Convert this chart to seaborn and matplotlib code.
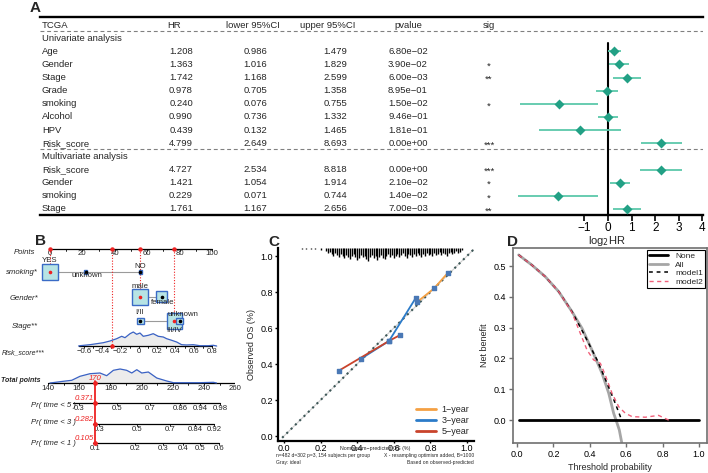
import numpy as np
import pandas as pd
import matplotlib
matplotlib.use("Agg")
import matplotlib.pyplot as plt
import matplotlib.transforms as mtrans
from matplotlib.patches import Rectangle
from matplotlib.lines import Line2D
import seaborn as sns

# ---------------- Panel A data (forest plot) ----------------
a_labels = ["Age", "Gender", "Stage", "Grade", "smoking", "Alcohol", "HPV", "Risk_score",
            "Risk_score", "Gender", "smoking", "Stage"]
a_group = ["Univariate"] * 8 + ["Multivariate"] * 4
a_hr = [1.208, 1.363, 1.742, 0.978, 0.240, 0.990, 0.439, 4.799, 4.727, 1.421, 0.229, 1.761]
a_lower = [0.986, 1.016, 1.168, 0.705, 0.076, 0.736, 0.132, 2.649, 2.534, 1.054, 0.071, 1.167]
a_upper = [1.479, 1.829, 2.599, 1.358, 0.755, 1.332, 1.465, 8.693, 8.818, 1.914, 0.744, 2.656]
a_pvalue = ["6.80e\u221202", "3.90e\u221202", "6.00e\u221203", "8.95e\u221201", "1.50e\u221202",
            "9.46e\u221201", "1.81e\u221201", "0.00e+00", "0.00e+00", "2.10e\u221202",
            "1.40e\u221202", "7.00e\u221203"]
a_sig = ["", "*", "**", "", "*", "", "", "***", "***", "*", "*", "**"]
a_headers = ["TCGA", "HR", "lower 95%CI", "upper 95%CI", "pvalue", "sig"]
forest_ticks = [-1, 0, 1, 2, 3, 4]

# ---------------- Panel B data (nomogram) ----------------
points_ticks = list(range(0, 101, 10))
smoking_levels = ["YES", "unknown", "NO"]
smoking_points = [0, 22, 55.6]
smoking_freq = [0.465, 0.019, 0.019]
gender_levels = ["male", "female"]
gender_points = [55.6, 69]
gender_freq = [0.53, 0.25]
stage_levels = ["I/II", "III/IV", "unknown"]
stage_points = [55.6, 76.8, 80]
stage_freq = [0.10, 0.465, 0.087]
risk_ticks = [-0.6, -0.4, -0.2, 0, 0.2, 0.4, 0.6, 0.8]
risk_range = [-0.65, 0.8]
risk_pts_anchor = [(-0.6, 21.0), (0.8, 100.0)]
risk_dens_r = [-0.66, -0.644, -0.535, -0.462, -0.389, -0.316, -0.243, -0.188, -0.152, -0.097, -0.061,
               -0.024, 0.012, 0.048, 0.103, 0.157, 0.212, 0.267, 0.304, 0.359, 0.413, 0.468,
               0.523, 0.595, 0.668, 0.759, 0.814, 0.85]
risk_dens_h = [0, 0.3, 1.3, 2.3, 3.3, 5, 7.3, 9.7, 8.3, 12.3, 14, 11.7, 13, 9.7, 10.7, 12.3, 9.7,
               9, 7.3, 5.7, 4, 1.3, 1, 1.3, 0.3, 0.3, 0.7, 0]
total_ticks = [140, 160, 180, 200, 220, 240, 260]
total_dens_T = [141.3, 149.8, 155.2, 160.5, 166.9, 173.3, 177.6, 181.9, 186.2, 190.4, 193.7,
                196.9, 200.1, 204.3, 209.7, 216.1, 220.4, 237.4, 246, 248]
total_dens_h = [0, 1.7, 2.7, 6.7, 9.3, 10, 7.3, 12.7, 14, 12.7, 10, 13.3, 10, 11, 5, 2, 0.3,
                0.3, 0.7, 0]
pr5_ticks = ["0.3", "0.5", "0.7", "0.86", "0.94", "0.98"]
pr5_total = [159.9, 184.2, 205.4, 224.6, 237.4, 250.3]
pr3_ticks = ["0.3", "0.5", "0.7", "0.84", "0.92"]
pr3_total = [172.7, 197.0, 218.2, 234.2, 246.4]
pr1_ticks = ["0.1", "0.2", "0.3", "0.4", "0.5", "0.6"]
pr1_total = [170.1, 195.8, 213.7, 226.5, 237.4, 249.6]
pr_start = [156.0, 168.8, 168.6]
sel_smoking, sel_gender, sel_stage, sel_risk = "YES", "male", "III/IV", -0.29
sel_total = 170
sel_pred = ["0.371", "0.282", "0.105"]

# ---------------- Panel C data (calibration) ----------------
cal_year = ["1\u2212year"] * 3 + ["3\u2212year"] * 3 + ["5\u2212year"] * 3
cal_pred = [0.727, 0.82, 0.895, 0.419, 0.574, 0.72, 0.30, 0.574, 0.634]
cal_obs = [0.744, 0.82, 0.906, 0.428, 0.528, 0.767, 0.363, 0.528, 0.561]
rug_sparse_x = [0.10, 0.12, 0.15, 0.17, 0.20]
rug_sparse_h = [1.5, 1, 1.5, 1, 2]
rug_counts = [3, 5, 4, 6, 8, 5, 7, 9, 6, 8, 10, 7, 9, 11, 8, 6, 9, 12, 10, 7, 9, 8, 11, 13, 9,
              7, 10, 8, 12, 9, 7, 10, 11, 8, 6, 9, 7, 10, 8, 6, 9, 7, 5, 8, 10, 6, 7, 9, 6, 8,
              5, 7, 9, 6, 8, 5, 7, 6, 8, 5, 7, 6, 4, 7, 5, 6, 8, 5, 4, 6, 5, 3, 5, 4, 2]
rug_range = [0.23, 0.97]

# ---------------- Panel D data (decision curve) ----------------
all_pt = [0.009, 0.082, 0.156, 0.229, 0.302, 0.357, 0.412, 0.467, 0.504, 0.531, 0.544, 0.562, 0.575]
all_nb = [0.536, 0.503, 0.465, 0.417, 0.352, 0.298, 0.227, 0.152, 0.087, 0.022, 0.0, -0.032, -0.072]
m1_pt = [0.009, 0.082, 0.156, 0.229, 0.302, 0.366, 0.44, 0.495, 0.54, 0.568, 0.577]
m1_nb = [0.536, 0.503, 0.465, 0.417, 0.352, 0.281, 0.195, 0.119, 0.054, 0.011, 0.0]
m2_pt = [0.009, 0.082, 0.156, 0.229, 0.30, 0.348, 0.385, 0.421, 0.458, 0.485, 0.522, 0.559,
         0.595, 0.632, 0.705, 0.778, 0.85]
m2_nb = [0.536, 0.503, 0.465, 0.417, 0.352, 0.281, 0.227, 0.195, 0.184, 0.146, 0.087, 0.043,
         0.022, 0.011, 0.009, 0.015, -0.005]
none_pt = [0.01, 1.0]
none_nb = [0.0, 0.0]

# ================= figure =================
sns.set_theme(style="white")
plt.rcParams["font.family"] = ["Liberation Sans", "DejaVu Sans"]
plt.rcParams["axes.unicode_minus"] = True

W, H = 708, 473
fig = plt.figure(figsize=(W / 100, H / 100), dpi=100)
fig.patch.set_facecolor("white")


def px_axes(x0, y0, x1, y1):
    return fig.add_axes([x0 / W, 1 - y1 / H, (x1 - x0) / W, (y1 - y0) / H])


def ftext(px, py, s, **kw):
    fig.text(px / W, 1 - py / H, s, **kw)


# ---------------- Panel A ----------------
dfA = pd.DataFrame({"label": a_labels, "group": a_group, "hr": a_hr, "lower": a_lower,
                    "upper": a_upper, "p": a_pvalue, "sig": a_sig})
dfA["row"] = list(range(2, 10)) + list(range(11, 15))
dfA["log2hr"] = np.log2(dfA["hr"])

axA = px_axes(40, 17, 703, 215)
unit = 23.6
axA.set_xlim(-(608 - 40) / unit, (703 - 608) / unit)
axA.set_ylim(14.46, -0.61)
axA.set_facecolor("none")
for s in ["left", "right"]:
    axA.spines[s].set_visible(False)
for s in ["top", "bottom"]:
    axA.spines[s].set_linewidth(1.7)
    axA.spines[s].set_color("black")
axA.set_yticks([])
axA.set_xticks(forest_ticks)
axA.tick_params(axis="x", direction="out", length=4, width=1.2, labelsize=8.5, pad=1,
                bottom=True, colors="black")

tA = mtrans.blended_transform_factory(axA.transAxes, axA.transData)
fx = lambda px: (px - 40) / 663
fs = 6.8
hdr_x = [42, 174, 253, 328, 408, 489]
for h, x in zip(a_headers, hdr_x):
    axA.text(fx(x), 0, h, transform=tA, ha="left" if h == "TCGA" else "center",
             va="center", fontsize=fs)
axA.text(fx(42), 1, "Univariate analysis", transform=tA, ha="left", va="center", fontsize=fs)
axA.text(fx(42), 10, "Multivariate analysis", transform=tA, ha="left", va="center", fontsize=fs)
for _, r in dfA.iterrows():
    axA.text(fx(42), r.row, r.label, transform=tA, ha="left", va="center", fontsize=fs)
    axA.text(fx(181), r.row, f"{r.hr:.3f}", transform=tA, ha="center", va="center", fontsize=fs)
    axA.text(fx(255), r.row, f"{r.lower:.3f}", transform=tA, ha="center", va="center", fontsize=fs)
    axA.text(fx(335), r.row, f"{r.upper:.3f}", transform=tA, ha="center", va="center", fontsize=fs)
    axA.text(fx(408), r.row, r.p, transform=tA, ha="center", va="center", fontsize=fs)
    if r.sig:
        axA.text(fx(489), r.row + 0.15, r.sig, transform=tA, ha="center", va="center", fontsize=fs)

for yy in [0.46, 9.44]:
    axA.axhline(yy, color="#808080", lw=0.8, ls=(0, (3.5, 2.5)))
axA.plot([0, 0], [1.37, 14.46], color="black", lw=1.5, zorder=2, clip_on=False)
axA.hlines(dfA["row"], np.log2(dfA["lower"]), np.log2(dfA["upper"]), color="#5cc8aa", lw=1.3,
           zorder=3)
sns.scatterplot(data=dfA, x="log2hr", y="row", marker="D", s=26, color="#22a085",
                edgecolor="#22a085", linewidth=0, ax=axA, zorder=4, legend=False)
axA.set_xlabel("")
axA.set_ylabel("")
ftext(607, 241, "log$_2$HR", ha="center", va="center", fontsize=8)

# ---------------- Panel B (nomogram) ----------------
axB = px_axes(0, 228, 235, 473)
axB.set_xlim((0 - 50) / 1.62, (235 - 50) / 1.62)
axB.set_ylim(473, 228)
axB.axis("off")

(r0, p0), (r1, p1) = risk_pts_anchor
risk_to_pts = lambda r: p0 + (np.asarray(r) - r0) * (p1 - p0) / (r1 - r0)
total_to_x = lambda T: (48 + 1.56 * (np.asarray(T) - 140) - 50) / 1.62
px_to_x = lambda px: (px - 50) / 1.62
bfs = 5.6
red = "#ee2222"
box_face, box_edge = "#b7e4e4", "#3a6bc6"

# Points axis
yP = 249
axB.plot([0, 100], [yP, yP], color="black", lw=0.9)
for t in points_ticks:
    axB.plot([t, t], [yP, yP + 2], color="black", lw=0.6)
for t in points_ticks[::2]:
    axB.text(t, yP + 4.5, str(t), ha="center", va="center", fontsize=bfs)
axB.text(px_to_x(35), yP + 3, "Points", ha="right", va="center", fontsize=bfs, style="italic")

cat_vars = [
    ("smoking*", 272, smoking_levels, smoking_points, smoking_freq, sel_smoking,
     [(0, -12), (1.5, 3.5), (0, -5.5)]),
    ("Gender*", 297, gender_levels, gender_points, gender_freq, sel_gender,
     [(0, -11), (1, 5.5)]),
    ("Stage**", 321, stage_levels, stage_points, stage_freq, sel_stage,
     [(-0.5, -8), (0, 10), (3, -6)]),
]
label_y = {"smoking*": 272, "Gender*": 299, "Stage**": 326}
for name, yv, levels, pts, freq, sel, offs in cat_vars:
    axB.text(px_to_x(38), label_y[name], name, ha="right", va="center", fontsize=bfs,
             style="italic")
    axB.plot([min(pts), max(pts)], [yv, yv], color="#9a9a9a", lw=0.8, zorder=1)
    for lev, p, f, (dx, dy) in zip(levels, pts, freq, offs):
        half = 11 * np.sqrt(f)
        axB.add_patch(Rectangle((p - half / 1.62, yv - half), 2 * half / 1.62, 2 * half,
                                facecolor=box_face, edgecolor=box_edge, lw=1.0, zorder=2))
        axB.plot([p], [yv], marker="o", ms=1.6, color=red if lev == sel else "black", zorder=3)
        axB.text(p + dx / 1.62, yv + dy, lev, ha="center", va="center", fontsize=bfs, zorder=4)
        if lev == sel:
            axB.plot([p, p], [yP, yv], color=red, lw=0.8, ls=(0, (1, 1.5)), zorder=1)
            axB.plot([p], [yP], marker="o", ms=2.2, color=red, zorder=3)

# Risk_score axis
yR = 346
rx = risk_to_pts(risk_range)
axB.plot(rx, [yR, yR], color="black", lw=0.9)
for t in np.arange(-0.6, 0.81, 0.1):
    axB.plot([risk_to_pts(t)] * 2, [yR, yR + 2], color="black", lw=0.6)
for t in risk_ticks:
    lab = f"{t:.1f}".replace("-", "\u2212") if t != 0 else "0"
    axB.text(risk_to_pts(t), yR + 5.5, lab, ha="center", va="center", fontsize=bfs)
dx_r = risk_to_pts(risk_dens_r)
dy_r = yR - np.asarray(risk_dens_h)
axB.fill_between(dx_r, dy_r, yR, color="#ececec", zorder=0)
axB.plot(dx_r, dy_r, color="#3a62c4", lw=0.9)
axB.text(px_to_x(2), 353, "Risk_score***", ha="left", va="center", fontsize=5.0,
         style="italic")
ps = float(risk_to_pts(sel_risk))
axB.plot([ps, ps], [yP, yR], color=red, lw=0.8, ls=(0, (1, 1.5)), zorder=1)
axB.plot([ps], [yP], marker="o", ms=2.2, color=red, zorder=3)
axB.plot([ps], [yR], marker="o", ms=2.2, color=red, zorder=3)

# Total points axis
yT = 383
axB.plot(total_to_x([140, 260]), [yT, yT], color="black", lw=0.9)
for t in range(140, 261, 10):
    axB.plot([total_to_x(t)] * 2, [yT, yT + 2], color="black", lw=0.6)
for t in total_ticks:
    axB.text(total_to_x(t), yT + 5, str(t), ha="center", va="center", fontsize=bfs)
dxt = total_to_x(total_dens_T)
dyt = yT - np.asarray(total_dens_h)
axB.fill_between(dxt, dyt, yT, color="#ececec", zorder=0)
axB.plot(dxt, dyt, color="#3a62c4", lw=0.9)
axB.text(px_to_x(1), 380, "Total points", ha="left", va="center", fontsize=5.0, style="italic",
         weight="bold")

# Probability axes
xs = float(total_to_x(sel_total))
pr_rows = [(403, "Pr( time < 5 )", pr5_ticks, pr5_total, pr_start[0], 405, sel_pred[0], -5),
           (424, "Pr( time < 3 )", pr3_ticks, pr3_total, pr_start[1], 422, sel_pred[1], -5),
           (443, "Pr( time < 1 )", pr1_ticks, pr1_total, pr_start[2], 443, sel_pred[2], -5)]
for yy, lab, ticks, tots, st, ly, pred, dyl in pr_rows:
    axB.plot(total_to_x([st, tots[-1]]), [yy, yy], color="black", lw=0.9)
    for tk, tt in zip(ticks, tots):
        axB.plot([total_to_x(tt)] * 2, [yy, yy + 2], color="black", lw=0.6)
        axB.text(total_to_x(tt), yy + 5, tk, ha="center", va="center", fontsize=bfs)
    axB.text(px_to_x(76), ly, lab, ha="right", va="center", fontsize=bfs, style="italic")
    axB.plot([xs], [yy], marker="o", ms=2.4, color=red, zorder=4)
    axB.text(xs - 1.5 / 1.62, yy + dyl, pred, ha="right", va="center", fontsize=bfs,
             style="italic", color=red)
axB.plot([xs, xs], [381, 443], color=red, lw=1.3, zorder=3)
axB.plot([xs], [yT], marker="o", ms=2.4, color=red, zorder=4)
axB.text(xs, 378.5, str(sel_total), ha="center", va="center", fontsize=bfs, style="italic",
         color=red)

# ---------------- Panel C (calibration) ----------------
axC = px_axes(278, 248, 474, 441)
axC.set_xlim((278 - 284) / 183, (474 - 284) / 183)
yc_top = (436 - 248) / 180
axC.set_ylim((436 - 441) / 180, yc_top)
axC.set_facecolor("none")
for s in ["top", "right"]:
    axC.spines[s].set_visible(False)
for s in ["left", "bottom"]:
    axC.spines[s].set_linewidth(1.6)
    axC.spines[s].set_color("black")
ticks01 = [0, 0.2, 0.4, 0.6, 0.8, 1.0]
axC.set_xticks(ticks01)
axC.set_yticks(ticks01)
axC.set_xticklabels([f"{t:.1f}" for t in ticks01])
axC.set_yticklabels([f"{t:.1f}" for t in ticks01])
axC.tick_params(direction="out", length=2, width=1, labelsize=6.5, pad=1.5, bottom=True,
                left=True, colors="black")
axC.tick_params(axis="x", length=1.5, pad=0.3)
diag = [-0.01, 1.035]
axC.plot(diag, diag, color="#cfcfcf", lw=0.8, zorder=1)
axC.plot(diag, diag, color="#3c5656", lw=1.5, ls=(0, (1, 1.9)), zorder=2)
rug_x = np.linspace(rug_range[0], rug_range[1], len(rug_counts))
axC.vlines(rug_x, yc_top - np.asarray(rug_counts) * 0.0055, yc_top, color="black", lw=1.0,
           clip_on=False)
axC.vlines(rug_sparse_x, yc_top - np.asarray(rug_sparse_h) * 0.0055, yc_top, color="black",
           lw=1.0, clip_on=False)
dfC = pd.DataFrame({"year": cal_year, "pred": cal_pred, "obs": cal_obs})
cal_pal = {"1\u2212year": "#f4a043", "3\u2212year": "#2b7bc9", "5\u2212year": "#c9432b"}
sns.lineplot(data=dfC, x="pred", y="obs", hue="year", palette=cal_pal, ax=axC, lw=1.3,
             sort=False, estimator=None, legend=False, zorder=3)
axC.scatter(dfC["pred"], dfC["obs"], marker="s", s=5, color="#4a78b5", zorder=4)
axC.set_xlabel("")
axC.set_ylabel("Observed OS (%)", fontsize=6.5, labelpad=3)
handles = [Line2D([], [], color=cal_pal[k], lw=2) for k in cal_pal]
axC.legend(handles, list(cal_pal.keys()), loc="lower right", frameon=False, fontsize=6.5,
           handlelength=2.2, borderaxespad=0.1, labelspacing=0.25, handletextpad=0.6)
ftext(375, 448, "Nomogram\u2212predicted OS (%)", ha="center", va="center", fontsize=3.8)
ftext(276, 455, "n=482 d=302 p=3, 154 subjects per group", ha="left", va="center", fontsize=3.6)
ftext(276, 462, "Gray: ideal", ha="left", va="center", fontsize=3.6)
ftext(474, 455, "X - resampling optimism added, B=1000", ha="right", va="center", fontsize=3.6)
ftext(474, 462, "Based on observed-predicted", ha="right", va="center", fontsize=3.6)

# ---------------- Panel D (DCA) ----------------
axD = px_axes(513, 248, 707, 443)
axD.set_xlim((513 - 517) / 182, (707 - 517) / 182)
axD.set_ylim((420 - 443) / 308, (420 - 248) / 308)
axD.set_facecolor("none")
for s in axD.spines.values():
    s.set_visible(True)
    s.set_color("#707070")
    s.set_linewidth(1.2)
axD.set_xticks(ticks01)
axD.set_xticklabels([f"{t:.1f}" for t in ticks01])
yt = [0, 0.1, 0.2, 0.3, 0.4, 0.5]
axD.set_yticks(yt)
axD.set_yticklabels([f"{t:.1f}" for t in yt])
axD.tick_params(direction="out", length=3, width=1, labelsize=6.5, pad=2, bottom=True,
                left=True, colors="black")
axD.tick_params(color="#707070")
dfAll = pd.DataFrame({"pt": all_pt, "nb": all_nb})
dfNone = pd.DataFrame({"pt": none_pt, "nb": none_nb})
dfM1 = pd.DataFrame({"pt": m1_pt, "nb": m1_nb})
dfM2 = pd.DataFrame({"pt": m2_pt, "nb": m2_nb})
sns.lineplot(data=dfAll, x="pt", y="nb", color="#a6a6a6", lw=2, ax=axD, zorder=2)
sns.lineplot(data=dfNone, x="pt", y="nb", color="black", lw=2, ax=axD, zorder=3)
sns.lineplot(data=dfM1, x="pt", y="nb", color="black", lw=1.1, ls=(0, (2.5, 2.5)), ax=axD,
             zorder=4)
sns.lineplot(data=dfM2, x="pt", y="nb", color="#f0607a", lw=1.0, ls=(0, (3, 2.5)), ax=axD,
             zorder=4)
axD.set_xlabel("Threshold probability", fontsize=6.5, labelpad=3)
axD.set_ylabel("Net benefit", fontsize=6.5, labelpad=3)
hD = [Line2D([], [], color="black", lw=2), Line2D([], [], color="#a6a6a6", lw=2),
      Line2D([], [], color="black", lw=1.1, ls=(0, (2.5, 2.5))),
      Line2D([], [], color="#f0607a", lw=1.0, ls=(0, (3, 2.5)))]
legD = axD.legend(hD, ["None", "All", "model1", "model2"], loc="upper right", fontsize=6,
                  handlelength=2.3, borderpad=0.3, labelspacing=0.1, handletextpad=0.8,
                  borderaxespad=0.2, fancybox=False, framealpha=1)
legD.get_frame().set_edgecolor("black")
legD.get_frame().set_linewidth(0.8)

# ---------------- panel letters ----------------
for lab, (px, py) in {"A": (35, 8), "B": (40, 241), "C": (274, 242), "D": (512, 242)}.items():
    ftext(px, py, lab, ha="center", va="center", fontsize=11, weight="bold")

fig.savefig("out.png", dpi=100, facecolor="white")
